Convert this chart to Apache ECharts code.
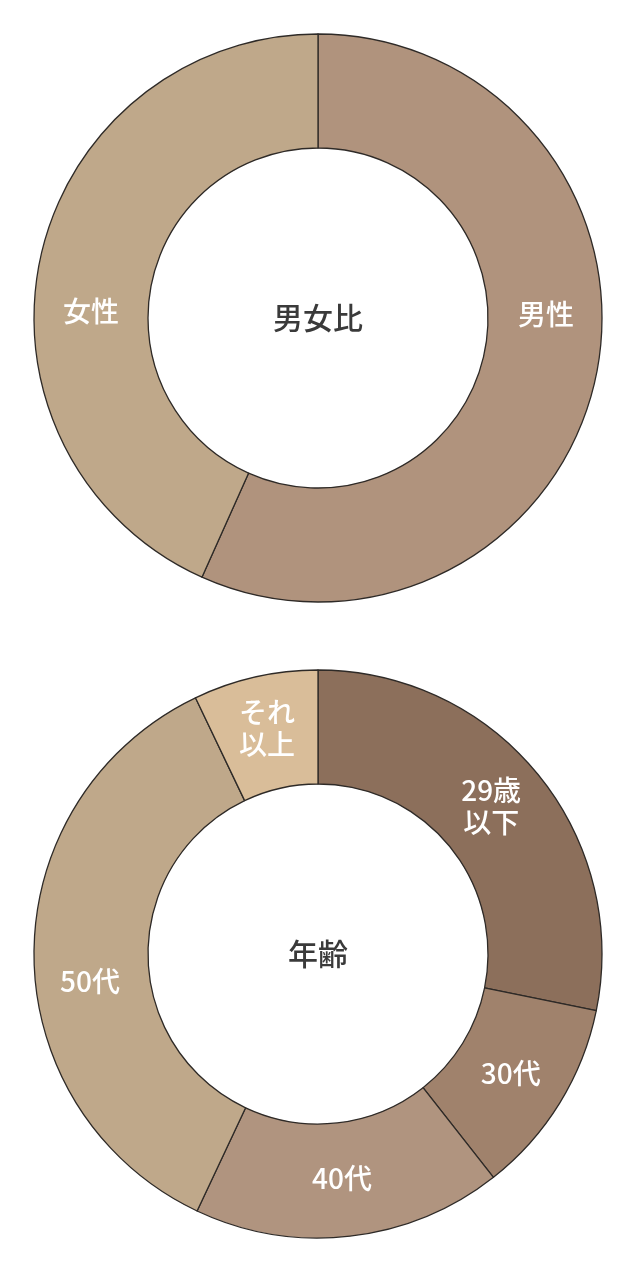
<!DOCTYPE html>
<html>
<head>
<meta charset="utf-8">
<script src="https://cdn.jsdelivr.net/npm/echarts@6/dist/echarts.min.js"></script>
<style>
html,body{margin:0;padding:0;background:#fff;}
#c{width:636px;height:1272px;}
</style>
</head>
<body>
<div id="c"></div>
<script>
const genderLabels = ['男性', '女性'];
const genderValues = [56.7, 43.3];
const genderColors = ['#b0937d', '#bfa88a'];
const genderTitle = '男女比';

const ageLabels = ['29歳\n以下', '30代', '40代', '50代', 'それ\n以上'];
const ageValues = [28.2, 11.2, 17.6, 35.9, 7.1];
const ageColors = ['#8c6f5b', '#a0826c', '#b0947f', '#bfa88a', '#d9bd99'];
const ageTitle = '年齢';

const genderOffsets = [[3, -52], [-2, 41]];
const ageOffsets = [[-5, -2], [-3, -1], [-2, -4], [2, 27], [0, -1]];

const FONT = '"Noto Sans CJK JP", "Noto Sans", sans-serif';

function build(labels, values, colors, offsets) {
  return labels.map((name, i) => ({
    name: name,
    value: values[i],
    itemStyle: { color: colors[i] },
    label: { offset: offsets[i] }
  }));
}

const chart = echarts.init(document.getElementById('c'), null, { renderer: 'canvas' });

const pieBase = {
  type: 'pie',
  radius: [170, 284],
  startAngle: 90,
  clockwise: true,
  avoidLabelOverlap: false,
  silent: true,
  animation: false,
  itemStyle: { borderColor: '#2e2a27', borderWidth: 1.3 },
  label: {
    show: true,
    position: 'inside',
    formatter: '{b}',
    color: '#ffffff',
    fontSize: 28,
    lineHeight: 32,
    fontFamily: FONT,
    fontWeight: 500
  },
  labelLine: { show: false },
  emphasis: { disabled: true }
};

function centerText(txt, cy) {
  return {
    type: 'text',
    x: 318, y: cy,
    silent: true,
    style: {
      text: txt,
      align: 'center',
      verticalAlign: 'middle',
      fill: '#3a3a3a',
      fontSize: 30,
      fontWeight: 500,
      fontFamily: FONT
    }
  };
}

chart.setOption({
  backgroundColor: '#ffffff',
  animation: false,
  graphic: [centerText(genderTitle, 318), centerText(ageTitle, 954)],
  series: [
    Object.assign({}, pieBase, {
      center: [318, 318],
      data: build(genderLabels, genderValues, genderColors, genderOffsets)
    }),
    Object.assign({}, pieBase, {
      center: [318, 954],
      data: build(ageLabels, ageValues, ageColors, ageOffsets)
    })
  ]
});
</script>
</body>
</html>
